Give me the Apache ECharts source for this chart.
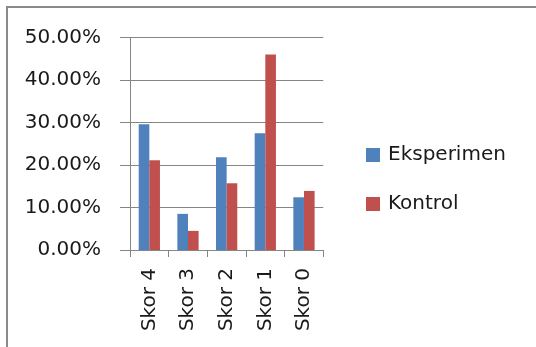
<!DOCTYPE html>
<html>
<head>
<meta charset="utf-8">
<script src="https://cdn.jsdelivr.net/npm/echarts@6/dist/echarts.min.js"></script>
<style>
html,body{margin:0;padding:0;background:#fff;}
#chart{width:536px;height:347px;}
</style>
</head>
<body>
<div id="chart"></div>
<script>
var categories = ['Skor 4', 'Skor 3', 'Skor 2', 'Skor 1', 'Skor 0'];
var eksperimen = [29.6, 8.5, 21.8, 27.5, 12.4];
var kontrol = [21.1, 4.5, 15.7, 46.0, 13.9];
var seriesNames = ['Eksperimen', 'Kontrol'];

var FONT = 'DejaVu Sans';
var chart = echarts.init(document.getElementById('chart'));
chart.setOption({
  animation: false,
  backgroundColor: '#fff',
  graphic: [{
    type: 'rect',
    shape: {x: 7, y: 7, width: 600, height: 400},
    style: {fill: 'none', stroke: '#8a8a8a', lineWidth: 2},
    z: 0
  }],
  grid: {left: 130, top: 37.5, right: 212.7, bottom: 97},
  legend: {
    orient: 'vertical',
    left: 361, top: 140,
    itemWidth: 14, itemHeight: 14, itemGap: 29,
    icon: 'rect',
    textStyle: {fontFamily: FONT, fontSize: 20, color: '#1a1a1a', padding: [0,0,0,3]},
    data: seriesNames
  },
  xAxis: {
    type: 'category',
    data: categories,
    axisLine: {lineStyle: {color: '#858585', width: 1}},
    axisTick: {show: true, length: 7, lineStyle: {color: '#858585'}},
    axisLabel: {rotate: 90, margin: 18, fontFamily: FONT, fontSize: 20, color: '#1a1a1a'}
  },
  yAxis: {
    type: 'value',
    min: 0, max: 50, interval: 10,
    axisLine: {show: true, lineStyle: {color: '#858585', width: 1}},
    axisTick: {show: true, length: 10, lineStyle: {color: '#858585'}},
    splitLine: {lineStyle: {color: '#858585', width: 1}},
    axisLabel: {margin: 29, fontFamily: FONT, fontSize: 20, color: '#1a1a1a',
      formatter: function(v){ return v.toFixed(2) + '%'; }}
  },
  series: [
    {name: seriesNames[0], type: 'bar', data: eksperimen, barGap: '0%', barCategoryGap: '45%',
     itemStyle: {color: '#4F81BD'}},
    {name: seriesNames[1], type: 'bar', data: kontrol, barGap: '0%', barCategoryGap: '45%',
     itemStyle: {color: '#C0504D'}}
  ]
});
</script>
</body>
</html>
